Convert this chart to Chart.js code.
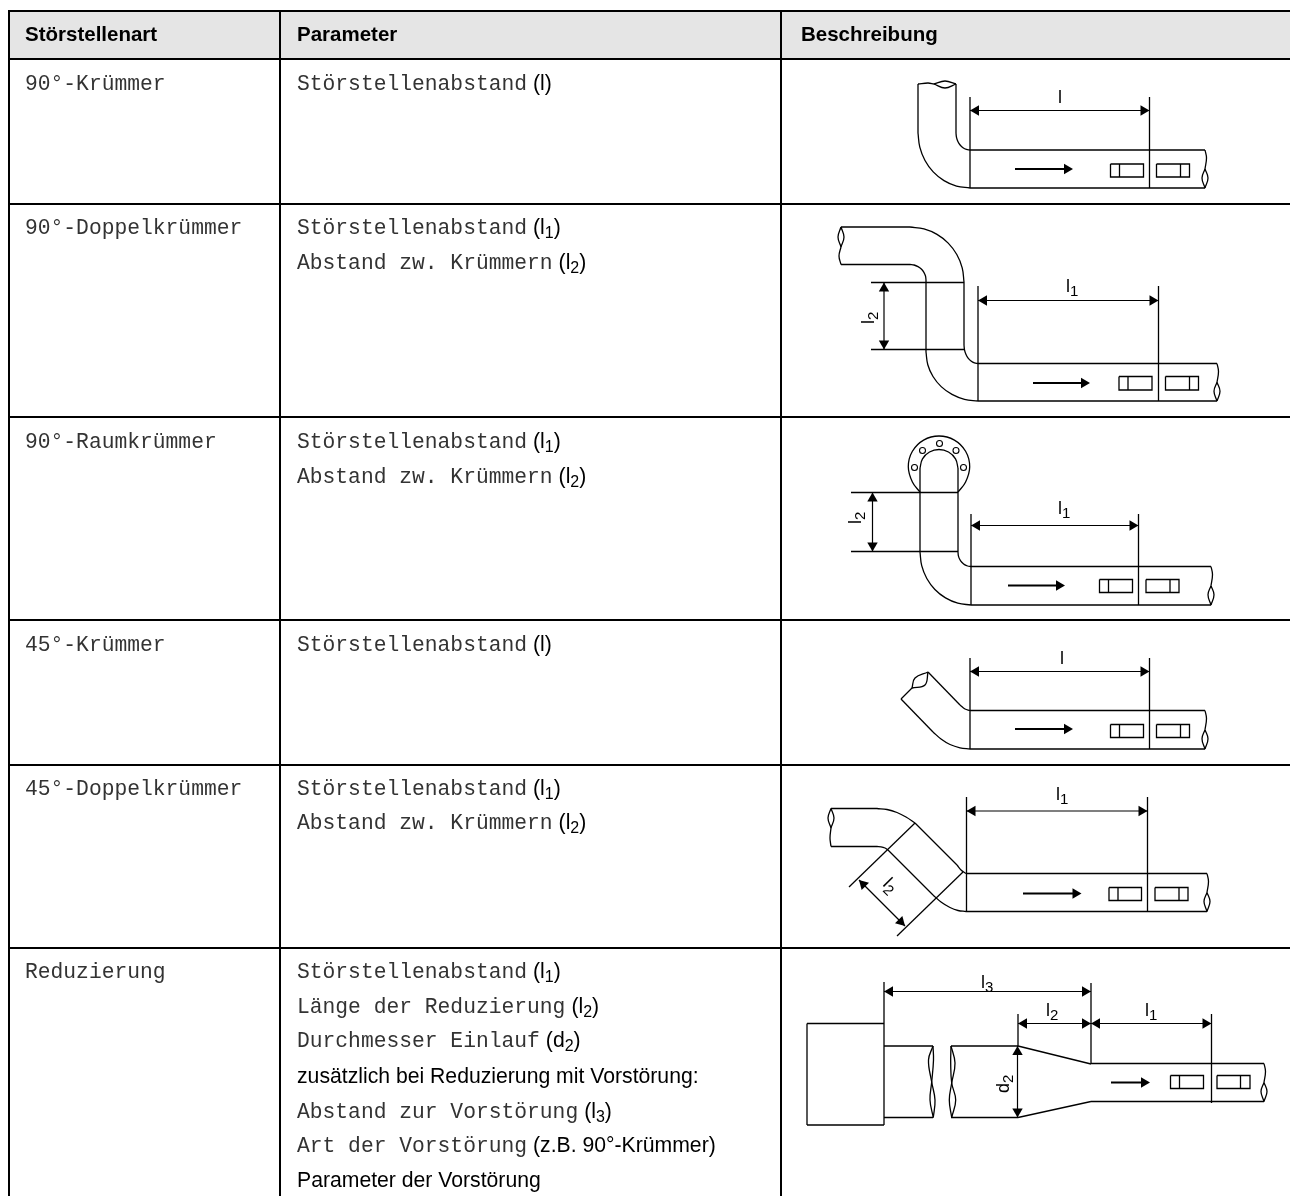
<!DOCTYPE html>
<html lang="de">
<head>
<meta charset="utf-8">
<title>Störstellenarten</title>
<script src="https://cdn.jsdelivr.net/npm/chart.js@4"></script>
<style>
  html, body { margin: 0; background: #fff; }
  canvas { display: block; }
</style>
</head>
<body>
<canvas id="chart" width="1290" height="1196"></canvas>
<script>
// header and cell text
const headers = [["Störstellenart", 25], ["Parameter", 297], ["Beschreibung", 801]];
const kinds = [
  ["90°-Krümmer", 90], ["90°-Doppelkrümmer", 234], ["90°-Raumkrümmer", 448],
  ["45°-Krümmer", 651], ["45°-Doppelkrümmer", 795], ["Reduzierung", 978]
];
// [mono text, sans text, subscript, closing text, baseline]
const params = [
  ["Störstellenabstand", "(l", "", ")", 90],
  ["Störstellenabstand", "(l", "1", ")", 234],
  ["Abstand zw. Krümmern", "(l", "2", ")", 269],
  ["Störstellenabstand", "(l", "1", ")", 448],
  ["Abstand zw. Krümmern", "(l", "2", ")", 483],
  ["Störstellenabstand", "(l", "", ")", 651],
  ["Störstellenabstand", "(l", "1", ")", 795],
  ["Abstand zw. Krümmern", "(l", "2", ")", 829],
  ["Störstellenabstand", "(l", "1", ")", 978],
  ["Länge der Reduzierung", "(l", "2", ")", 1013],
  ["Durchmesser Einlauf", "(d", "2", ")", 1047],
  ["", "zusätzlich bei Reduzierung mit Vorstörung:", "", "", 1083],
  ["Abstand zur Vorstörung", "(l", "3", ")", 1118],
  ["Art der Vorstörung", "(z.B. 90°-Krümmer)", "", "", 1152],
  ["", "Parameter der Vorstörung", "", "", 1187]
];
// [text, subscript, x, baseline, rotation]
const dimLabels = [
  ["l", "", 1058, 103, 0],
  ["l", "1", 1066, 292, 0], ["l", "2", 874, 324, -90],
  ["l", "1", 1058, 514, 0], ["l", "2", 861, 524, -90],
  ["l", "", 1060, 664, 0],
  ["l", "1", 1056, 800, 0], ["l", "2", 882, 885, 45],
  ["l", "3", 981, 988, 0], ["l", "2", 1046, 1016, 0], ["l", "1", 1145, 1016, 0],
  ["d", "2", 1009, 1093, -90]
];

// table rules
const headerBand = [[9, 35], [1290, 35]];
const tableRules = [
  [[9, 11], [1290, 11]], [[9, 59], [1290, 59]], [[9, 204], [1290, 204]],
  [[9, 417], [1290, 417]], [[9, 620], [1290, 620]], [[9, 765], [1290, 765]],
  [[9, 948], [1290, 948]],
  [[9, 10], [9, 1196]], [[280, 10], [280, 1196]], [[781, 10], [781, 1196]]
];

// straight parts of the drawings
const straights = [
  // 90 Krümmer
  [[918, 84], [918, 133]], [[956, 84], [956, 133]],
  [[970, 150], [1205, 150]], [[970, 188], [1205, 188]],
  [[970, 97], [970, 188]], [[1149.5, 97], [1149.5, 188]],
  // 90 Doppelkrümmer
  [[841, 227], [910, 227]], [[841, 264.5], [910, 264.5]],
  [[964, 282], [964, 345]], [[926, 280], [926, 352]],
  [[871, 282.5], [964, 282.5]], [[871, 349.5], [964, 349.5]],
  [[978, 363.5], [1217, 363.5]], [[978, 401], [1217, 401]],
  [[978, 286], [978, 401]], [[1158.5, 286], [1158.5, 401]],
  // 90 Raumkrümmer
  [[920, 468], [920, 552]], [[958, 468], [958, 552]],
  [[851, 492.5], [958, 492.5]], [[851, 551.5], [958, 551.5]],
  [[971, 566.5], [1211, 566.5]], [[971, 605], [1211, 605]],
  [[971, 514], [971, 605]], [[1138.5, 514], [1138.5, 605]],
  // 45 Krümmer
  [[928, 672], [960, 705]], [[901, 699], [933, 732]], [[901, 699], [912, 688]],
  [[970, 710.5], [1205, 710.5]], [[970, 749], [1205, 749]],
  [[970, 658], [970, 749]], [[1149.5, 658], [1149.5, 749]],
  // 45 Doppelkrümmer
  [[831, 808.5], [877, 808.5]], [[831, 846.5], [877, 846.5]],
  [[915, 823], [957, 865]], [[888, 850], [933, 895]],
  [[915, 823], [849, 887]], [[963, 872], [897, 936]],
  [[966, 873.5], [1207, 873.5]], [[966, 911.5], [1207, 911.5]],
  [[966.5, 797], [966.5, 911.5]], [[1147.5, 797], [1147.5, 911.5]],
  // Reduzierung
  [[807, 1023.5], [884, 1023.5]], [[807, 1023.5], [807, 1125]], [[807, 1125], [884, 1125]],
  [[884, 982], [884, 1125]],
  [[884, 1046], [933, 1046]], [[884, 1117.5], [933, 1117.5]],
  [[951, 1046], [1018, 1046]], [[951, 1117.5], [1018, 1117.5]],
  [[1018, 1046], [1091, 1064]], [[1018, 1117.5], [1091, 1101.5]],
  [[1091, 1063.5], [1264, 1063.5]], [[1091, 1101.5], [1264, 1101.5]],
  [[1091, 983], [1091, 1064]], [[1018, 1014], [1018, 1046]], [[1211.5, 1014], [1211.5, 1103]]
];

// bends and pipe breaks, smoothed by the line tension
const bends = [
  // 90 Krümmer
  [[918, 133], [919.8, 147.2], [925, 160.5], [933.2, 171.9], [944, 180.6], [956.5, 186.1], [970, 188]],
  [[956, 133], [956.5, 137.4], [957.9, 141.5], [960.1, 145], [963, 147.7], [966.4, 149.4], [970, 150]],
  [[918, 84], [928, 83], [934, 84]], [[934, 84], [945, 81], [956, 84]], [[934, 84], [945, 88], [956, 84]],
  // 90 Doppelkrümmer
  [[910, 227], [924, 228.9], [937, 234.4], [948.2, 243.1], [956.8, 254.5], [962.2, 267.8], [964, 282]],
  [[910, 264.5], [914.1, 265], [918, 266.6], [921.3, 269], [923.9, 272.3], [925.5, 276], [926, 280]],
  [[964, 345], [964.5, 349.8], [965.9, 354.3], [968.1, 358.1], [971, 361], [974.4, 362.9], [978, 363.5]],
  [[926, 352], [927.8, 364.7], [933, 376.5], [941.2, 386.6], [952, 394.4], [964.5, 399.3], [978, 401]],
  [[841, 227], [838, 237], [841, 247]], [[841, 227], [844, 237], [841, 247]], [[841, 247], [839, 256], [841, 264.5]],
  // 90 Raumkrümmer
  [[920, 468], [922.5, 458.8], [929.5, 452], [939, 449.5], [948.5, 452], [955.5, 458.8], [958, 468]],
  [[920, 492], [912.4, 482], [908.3, 466.7], [912.4, 451.3], [923.6, 440.1], [939, 436], [954.4, 440.1], [965.6, 451.3], [969.7, 466.7], [965.6, 482], [958, 492]],
  [[958, 552], [958.4, 555.8], [959.7, 559.3], [961.8, 562.3], [964.5, 564.6], [967.6, 566], [971, 566.5]],
  [[920, 552], [921.7, 565.7], [926.8, 578.5], [934.9, 589.5], [945.5, 597.9], [957.8, 603.2], [971, 605]],
  // 45 Krümmer
  [[960, 705], [965, 709], [970, 710.5]], [[933, 732], [941, 739], [950, 744.5], [960, 747.8], [970, 749]],
  [[912, 688], [915, 678], [928, 672]], [[912, 688], [925, 685], [928, 672]],
  // 45 Doppelkrümmer
  [[877, 808.5], [887, 809.5], [897, 812.5], [906, 817], [915, 823]],
  [[877, 846.5], [881, 846.8], [885, 848], [888, 850]],
  [[957, 865], [961, 870], [966, 873.5]],
  [[933, 895], [941, 902], [950, 907.5], [958, 910.5], [966, 911.5]],
  [[831, 808.5], [828, 818], [831, 828]], [[831, 808.5], [834, 818], [831, 828]], [[831, 828], [830, 838], [831, 846.5]],
  // Reduzierung
  [[933, 1046], [928.5, 1060], [931.7, 1082], [935, 1100], [933.3, 1117.5]],
  [[933, 1046], [933.5, 1060], [931.7, 1082], [930, 1100], [933.3, 1117.5]],
  [[951, 1046], [955, 1063], [951.7, 1083], [949.3, 1100], [951.7, 1117.5]],
  [[951, 1046], [950.7, 1063], [951.7, 1083], [955.7, 1100], [951.7, 1117.5]]
];

// measuring segments with their arrow heads
const dimensions = [
  [[970, 110.5], [1149.5, 110.5]], [[978, 300.5], [1158.5, 300.5]], [[884, 282.5], [884, 349.5]],
  [[971, 525.5], [1138.5, 525.5]], [[872.5, 492.5], [872.5, 551.5]], [[970, 671.5], [1149.5, 671.5]],
  [[966.5, 811], [1147.5, 811]], [[859, 880], [905, 926]],
  [[884, 991.5], [1091, 991.5]], [[1018, 1023.5], [1091, 1023.5]], [[1091, 1023.5], [1211.5, 1023.5]],
  [[1017.5, 1046], [1017.5, 1117.5]]
];
const arrowHeads = [
  [976, 110.5, 270], [1143.5, 110.5, 90], [984, 300.5, 270], [1152.5, 300.5, 90],
  [884, 288.5, 0], [884, 343.5, 180], [977, 525.5, 270], [1132.5, 525.5, 90],
  [872.5, 498.5, 0], [872.5, 545.5, 180], [976, 671.5, 270], [1143.5, 671.5, 90],
  [972.5, 811, 270], [1141.5, 811, 90], [863.2, 884.2, 315], [900.8, 921.8, 135],
  [890, 991.5, 270], [1085, 991.5, 90], [1024, 1023.5, 270], [1085, 1023.5, 90],
  [1097, 1023.5, 270], [1205.5, 1023.5, 90], [1017.5, 1052, 0], [1017.5, 1111.5, 180],
  // flow arrows
  [1067, 169, 90], [1084, 383, 90], [1059, 585.5, 90], [1067, 729, 90], [1075.5, 893.5, 90], [1144, 1082.5, 90]
];
const flowLines = [
  [[1015, 169], [1067, 169]], [[1033, 383], [1084, 383]], [[1008, 585.5], [1059, 585.5]],
  [[1015, 729], [1067, 729]], [[1023, 893.5], [1075, 893.5]], [[1111, 1082.5], [1144, 1082.5]]
];
// sensor boxes: [x1, x2, divider, top, bottom]
const sensors = [
  [1110.5, 1143.5, 1119.5, 164, 177], [1156.5, 1189.5, 1180.5, 164, 177],
  [1119, 1152, 1128, 376.5, 390], [1165.5, 1198.5, 1189.5, 376.5, 390],
  [1099.5, 1132.5, 1108.5, 579.5, 592.5], [1146, 1179, 1170, 579.5, 592.5],
  [1110.5, 1143.5, 1119.5, 724.5, 737.5], [1156.5, 1189.5, 1180.5, 724.5, 737.5],
  [1109, 1141.5, 1118, 887.5, 900.5], [1155, 1188, 1179, 887.5, 900.5],
  [1170.5, 1203.5, 1179.5, 1075.5, 1088.5], [1217, 1250, 1240.5, 1075.5, 1088.5]
];
// pipe end on the right: [x, top, bottom]
const pipeEnds = [[1205, 150, 188], [1217, 363.5, 401], [1211, 566.5, 605], [1205, 710.5, 749], [1207, 873.5, 911.5], [1264, 1063.5, 1101.5]];
const boltHoles = [[914.5, 467.5], [922.5, 450.5], [939.5, 443.5], [956, 450.5], [963.5, 467.5]];

function pts(list) {
  return list.map(p => ({ x: p[0], y: p[1] }));
}
function lineSet(list, width, extra) {
  return Object.assign({
    data: pts(list), showLine: true, pointRadius: 0,
    borderColor: "#000", borderWidth: width, tension: 0, order: 2
  }, extra);
}

const datasets = [];
datasets.push(lineSet(headerBand, 46, { borderColor: "#e5e5e5", order: 5 }));
tableRules.forEach(r => datasets.push(lineSet(r, 2)));
straights.forEach(r => datasets.push(lineSet(r, 1.3)));
bends.forEach(r => datasets.push(lineSet(r, 1.3, { tension: 0.4 })));
dimensions.forEach(r => datasets.push(lineSet(r, 1.2)));
flowLines.forEach(r => datasets.push(lineSet(r, 1.8)));
sensors.forEach(s => {
  datasets.push(lineSet([[s[0], s[3]], [s[1], s[3]], [s[1], s[4]], [s[0], s[4]], [s[0], s[3]]], 1.3));
  datasets.push(lineSet([[s[2], s[3]], [s[2], s[4]]], 1.3));
});
pipeEnds.forEach(e => {
  const mid = e[1] + (e[2] - e[1]) * 0.5;
  datasets.push(lineSet([[e[0], e[1]], [e[0] + 1.5, e[1] + 8], [e[0], mid]], 1.3, { tension: 0.4 }));
  datasets.push(lineSet([[e[0], mid], [e[0] - 3, mid + 9], [e[0], e[2]]], 1.3, { tension: 0.4 }));
  datasets.push(lineSet([[e[0], mid], [e[0] + 3, mid + 9], [e[0], e[2]]], 1.3, { tension: 0.4 }));
});
datasets.push({
  data: pts(arrowHeads), showLine: false, pointStyle: "triangle", pointRadius: 6,
  pointRotation: arrowHeads.map(a => a[2]), pointBackgroundColor: "#000", pointBorderColor: "#000",
  pointBorderWidth: 0, order: 1
});
datasets.push({
  data: pts(boltHoles), showLine: false, pointStyle: "circle", pointRadius: 3,
  pointBackgroundColor: "#fff", pointBorderColor: "#000", pointBorderWidth: 1.1, order: 1
});

const SANS = '"Liberation Sans", Arial, sans-serif';
const MONO = '"Liberation Mono", "Courier New", monospace';

// cell text and dimension letters, placed through the chart's scales
const textPlugin = {
  id: "tableText",
  afterDatasetsDraw(chart) {
    const ctx = chart.ctx, sx = chart.scales.x, sy = chart.scales.y;
    ctx.save();
    ctx.fillStyle = "#000";
    ctx.textBaseline = "alphabetic";
    ctx.font = "bold 20.5px " + SANS;
    headers.forEach(h => ctx.fillText(h[0], sx.getPixelForValue(h[1]), sy.getPixelForValue(41)));
    ctx.fillStyle = "#333";
    ctx.font = "21.3px " + MONO;
    kinds.forEach(k => ctx.fillText(k[0], sx.getPixelForValue(25), sy.getPixelForValue(k[1])));
    params.forEach(p => {
      let x = sx.getPixelForValue(297);
      const y = sy.getPixelForValue(p[4]);
      ctx.fillStyle = "#333";
      ctx.font = "21.3px " + MONO;
      if (p[0]) {
        ctx.fillText(p[0], x, y);
        x += ctx.measureText(p[0]).width + 6;
      }
      ctx.fillStyle = "#000";
      ctx.font = "21.2px " + SANS;
      ctx.fillText(p[1], x, y);
      x += ctx.measureText(p[1]).width;
      if (p[2]) {
        ctx.font = "16px " + SANS;
        ctx.fillText(p[2], x, y + 4);
        x += ctx.measureText(p[2]).width;
      }
      ctx.font = "21.2px " + SANS;
      ctx.fillText(p[3], x, y);
    });
    dimLabels.forEach(l => {
      ctx.save();
      ctx.translate(sx.getPixelForValue(l[2]), sy.getPixelForValue(l[3]));
      ctx.rotate(l[4] * Math.PI / 180);
      ctx.font = "18px " + SANS;
      ctx.fillText(l[0], 0, 0);
      const w = ctx.measureText(l[0]).width;
      if (l[1]) {
        ctx.font = "15px " + SANS;
        ctx.fillText(l[1], w, 4);
      }
      ctx.restore();
    });
    ctx.restore();
  }
};

new Chart(document.getElementById("chart"), {
  type: "scatter",
  data: { datasets: datasets },
  plugins: [textPlugin],
  options: {
    responsive: false,
    animation: false,
    layout: { padding: 0, autoPadding: false },
    plugins: { legend: { display: false }, tooltip: { enabled: false } },
    scales: {
      x: { type: "linear", min: 0, max: 1290, display: false },
      y: { type: "linear", min: 0, max: 1196, reverse: true, display: false }
    }
  }
});
</script>
</body>
</html>
